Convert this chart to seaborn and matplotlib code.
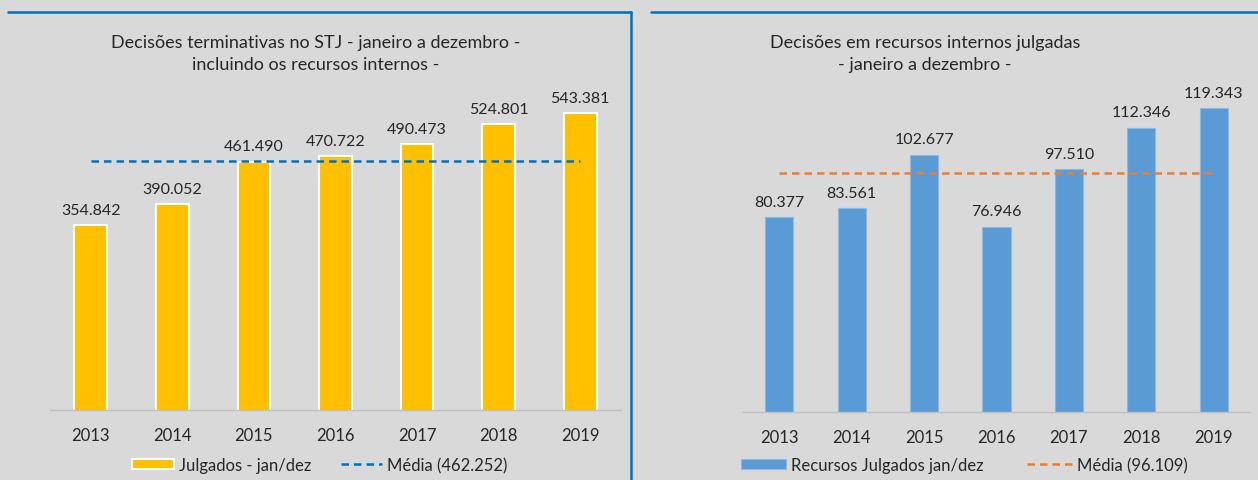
import matplotlib
matplotlib.use("Agg")
import matplotlib.pyplot as plt
import seaborn as sns
import pandas as pd
from matplotlib.lines import Line2D

years = ["2013", "2014", "2015", "2016", "2017", "2018", "2019"]
julgados = [354842, 390052, 461490, 470722, 490473, 524801, 543381]
media_julgados = 462252
recursos = [80377, 83561, 102677, 76946, 97510, 112346, 119343]
media_recursos = 96109

title_left = "Decisões terminativas no STJ - janeiro a dezembro -\nincluindo os recursos internos -"
title_right = "Decisões em recursos internos julgadas\n- janeiro a dezembro -"
leg_left_bar = "Julgados - jan/dez"
leg_left_line = "Média (462.252)"
leg_right_bar = "Recursos Julgados jan/dez"
leg_right_line = "Média (96.109)"

sns.set_theme(style="white")
plt.rcParams["font.family"] = ["Lato", "DejaVu Sans"]
BG = "#D9D9D9"
TXT = "#262626"

W, H = 1258, 481
fig = plt.figure(figsize=(W / 100, H / 100), dpi=100, facecolor=BG)


def fx(px):
    return px / W


def fy(py):
    return 1 - py / H


def make_axes(x0, x1, y0, y1):
    return fig.add_axes([fx(x0), fy(y1), fx(x1) - fx(x0), (y1 - y0) / H])


def fmt(v):
    return f"{v:,}".replace(",", ".")


def draw(ax, vals, mean, color, edge, elw, line_color, ylim, bar_w, bar_lbl, line_lbl):
    df = pd.DataFrame({"ano": years, "valor": vals})
    sns.barplot(data=df, x="ano", y="valor", color=color, width=bar_w,
                edgecolor=edge, linewidth=elw,
                saturation=1, ax=ax, label=bar_lbl)
    ax.bar_label(ax.containers[0], labels=[fmt(v) for v in vals], padding=6,
                 fontsize=11.5, color=TXT)
    mdf = pd.DataFrame({"x": list(range(len(years))), "y": [mean] * len(years)})
    sns.lineplot(data=mdf, x="x", y="y", color=line_color, linestyle=(0, (3, 2)),
                 linewidth=1.8, ax=ax, label=line_lbl)
    ax.set_xlim(-0.5, len(years) - 0.5)
    ax.set_ylim(*ylim)
    ax.set_facecolor(BG)
    for s in ["top", "right", "left"]:
        ax.spines[s].set_visible(False)
    ax.spines["bottom"].set_color("#BFBFBF")
    ax.spines["bottom"].set_linewidth(1)
    ax.set_yticks([])
    ax.set_xlabel("")
    ax.set_ylabel("")
    ax.tick_params(axis="x", length=0, pad=12, labelsize=12, labelcolor=TXT)
    ax.get_legend().remove()


def ordered(ax, first, second):
    h, l = ax.get_legend_handles_labels()
    d = dict(zip(l, h))
    return [d[first], d[second]], [first, second]


# left chart
axL = make_axes(50, 621, 100, 411)
draw(axL, julgados, media_julgados, "#FFC000", "white", 1.5, "#0070C0",
     (43400, 567000), 0.40, leg_left_bar, leg_left_line)
# right chart
axR = make_axes(743, 1250, 100, 413)
draw(axR, recursos, media_recursos, "#5B9BD5", "#8DB8E2", 0.8, "#ED7D31",
     (10650, 122600), 0.39, leg_right_bar, leg_right_line)

fig.text(fx(316), fy(54), title_left, ha="center", va="center", fontsize=13,
         color=TXT, linespacing=1.4)
fig.text(fx(925), fy(54), title_right, ha="center", va="center", fontsize=13,
         color=TXT, linespacing=1.4)

hL, lL = ordered(axL, leg_left_bar, leg_left_line)
fig.legend(hL, lL, loc="center", bbox_to_anchor=(fx(320), fy(466)), ncol=2,
           frameon=False, fontsize=12, handlelength=2.5, handleheight=0.6,
           columnspacing=1.75, handletextpad=0.3, labelcolor=TXT,
           borderpad=0, borderaxespad=0)
hR, lR = ordered(axR, leg_right_bar, leg_right_line)
fig.legend(hR, lR, loc="center", bbox_to_anchor=(fx(964), fy(466)), ncol=2,
           frameon=False, fontsize=12, handlelength=2.7, handleheight=0.6,
           columnspacing=2.6, handletextpad=0.3, labelcolor=TXT,
           borderpad=0, borderaxespad=0)

border = "#0070C0"
fig.add_artist(Line2D([fx(8), fx(631)], [fy(13), fy(13)], color=border, lw=1.8))
fig.add_artist(Line2D([fx(631), fx(631)], [fy(13), fy(481)], color=border, lw=1.8))
fig.add_artist(Line2D([fx(651), fx(1258)], [fy(13), fy(13)], color=border, lw=1.8))

fig.savefig("out.png", dpi=100, facecolor=BG)
